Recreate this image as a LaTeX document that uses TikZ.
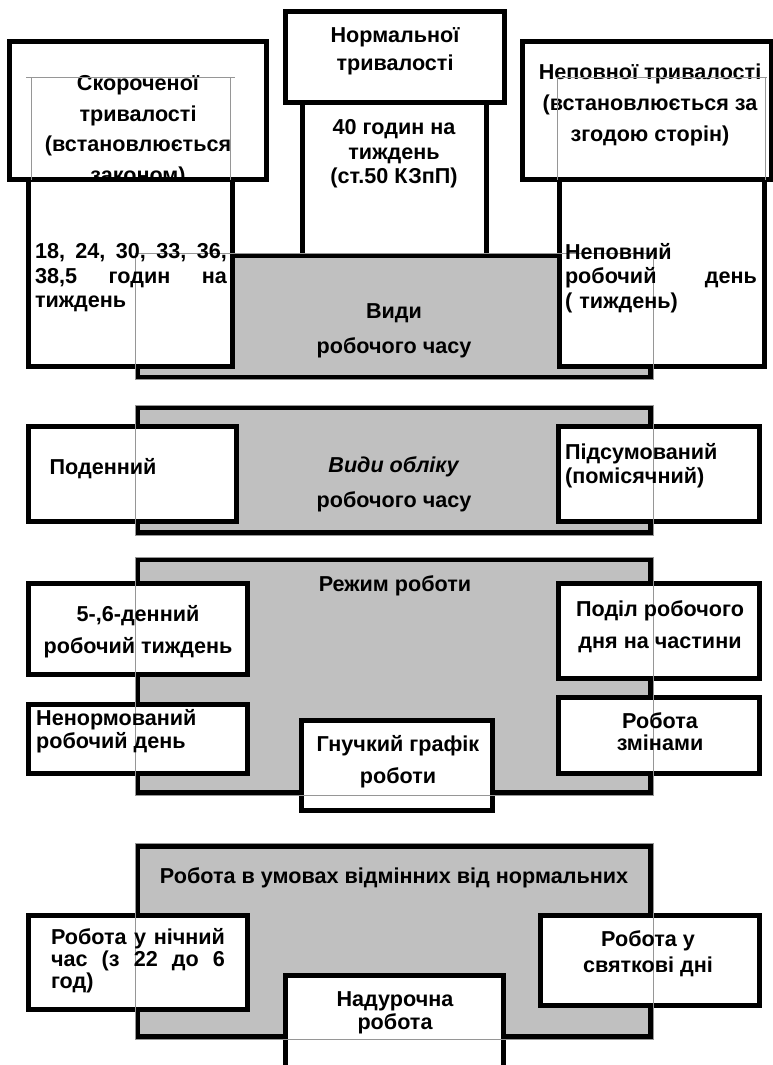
\documentclass[tikz,border=0pt]{standalone}
\usepackage{fontspec}
\setmainfont{Liberation Sans}

% one justified line: the spaces take up the free width
\newcommand{\spreadrow}[2]{\leavevmode\hbox to #1{\spaceskip=0.28em plus 1fil\relax #2}}

\begin{document}
\begin{tikzpicture}[x=1pt, y=-1pt,
  % ---- colours -------------------------------------------------------
  /utils/exec={%
    \definecolor{boxgrey}  {RGB}{192,192,192}%
    \definecolor{framegrey}{RGB}{150,150,150}%
  },
  % ---- boxes and labels ------------------------------------------------
  wbox/.style={draw=black, line width=5pt, fill=white, inner sep=0pt},
  gbox/.style={draw=black, line width=5pt, fill=boxgrey, inner sep=0pt,
    minimum width=513pt},
  lbl/.style={font=\bfseries\fontsize{21.6}{#1}\selectfont, align=center, inner sep=0pt},
  lbl/.default=25,
  frm/.style={draw=framegrey, line width=0.6pt},
]
\useasboundingbox (0,0) rectangle (773,1065);

% =====================================================================
%  BLOCK 1 : kinds of working time
% =====================================================================
\node[gbox, minimum height=121.5pt] (vydyChasu) at (394,316.5) {};

\node[wbox, minimum width=256.5pt, minimum height=137.5pt] (skorTop) at (137.75,110.75) {};
\node[wbox, minimum width=218.5pt, minimum height=90.5pt]  (normTop) at (394.75,57.25) {};
\node[wbox, minimum width=248.5pt, minimum height=137.5pt] (nepTop)  at (646.75,110.75) {};

\node[lbl=28]   (tNorm) at (395,51)  {Нормальної\\тривалості};
\node[lbl=30.5] (tSkor) at (138,131) {Скороченої\\тривалості\\(встановлюється\\законом)};
\node[lbl=31]   (tNep)  at (650,105) {Неповної тривалості\\(встановлюється за\\згодою сторін)};

\node[wbox, minimum width=203.5pt, minimum height=186.5pt] (skorLow) at (130.25,272.75) {};
\node[wbox, minimum width=183.5pt, minimum height=153pt]   (normLow) at (394.25,179) {};
\node[wbox, minimum width=205pt,   minimum height=186.5pt] (nepLow)  at (662,272.75) {};

% text frames left over round the upper labels
\draw[frm] (26,77) -- (235,77);
\draw[frm] (31,77) -- (31,180);
\draw[frm] (230,77) -- (230,180);
\draw[frm] (556,77) -- (767,77);
\draw[frm] (557,77) -- (557,180);
\draw[frm] (765,77) -- (765,180);
\draw[frm] (vydyChasu.north west) rectangle (vydyChasu.south east);

\node[lbl=24.5] (tSorok) at (394,154) {40 годин на\\тиждень\\(ст.50 КЗпП)};
\node[lbl=24.5, align=left, text width=192pt] (tGodyny) at (131,278)
  {\spreadrow{192pt}{18, 24, 30, 33, 36,}\\\spreadrow{192pt}{38,5 годин на}\\тиждень};
\node[lbl=24.5, align=left, text width=192pt] (tNepDen) at (661,278)
  {Неповний\\\spreadrow{192pt}{робочий день}\\( тиждень)};
\node[lbl=35] (tVydy) at (394,331) {Види\\робочого часу};

% =====================================================================
%  BLOCK 2 : kinds of accounting
% =====================================================================
\node[gbox, minimum height=125pt] (vydyOblik) at (394,470) {};
\node[wbox, minimum width=208pt, minimum height=95pt] (poden)  at (132.5,474) {};
\node[wbox, minimum width=201pt, minimum height=95pt] (pidsum) at (659,474) {};
\draw[frm] (vydyOblik.north west) rectangle (vydyOblik.south east);

\node[lbl] (tPoden) at (103,469) {Поденний};
\node[lbl=24, align=left, anchor=west] (tPidsum) at (565,466) {Підсумований\\(помісячний)};
\node[lbl=35] (tOblik) at (394,484) {\textit{Види обліку}\\робочого часу};

% =====================================================================
%  BLOCK 3 : work schedule
% =====================================================================
\node[gbox, minimum height=233pt] (rezhym) at (394,676) {};
\node[wbox, minimum width=219pt, minimum height=91pt] (p56)     at (138,629) {};
\node[wbox, minimum width=201pt, minimum height=95pt] (podil)   at (659,631) {};
\node[wbox, minimum width=219pt, minimum height=69pt] (nenorm)  at (138,739) {};
\node[wbox, minimum width=201pt, minimum height=76pt] (zminy)   at (659,735.5) {};
\node[wbox, minimum width=191pt, minimum height=90pt] (gnuchky) at (397,765.5) {};
\draw[frm] (rezhym.north west) rectangle (rezhym.south east);

\node[lbl] (tRezhym) at (395,586) {Режим роботи};
\node[lbl=32] (tP56)   at (138,632) {5-,6-денний\\робочий тиждень};
\node[lbl=32] (tPodil) at (660,627) {Поділ робочого\\дня на частини};
\node[lbl=23, align=left, anchor=west] (tNenorm) at (36,731) {Ненормований\\робочий день};
\node[lbl=22] (tZminy) at (660,732) {Робота\\змінами};
\node[lbl=32] (tGnuch) at (398,762) {Гнучкий графік\\роботи};

% =====================================================================
%  BLOCK 4 : work under other conditions
% =====================================================================
\node[gbox, minimum height=190.5pt] (vidminni) at (394,941.25) {};
\node[wbox, minimum width=219pt, minimum height=94pt]    (nichny)     at (138,962.5) {};
\node[wbox, minimum width=219pt, minimum height=90pt]    (sviatkovi)  at (650,960.5) {};
\node[wbox, minimum width=218pt, minimum height=124.5pt] (nadurochna) at (394.5,1037.75) {};
\draw[frm] (vidminni.north west) rectangle (vidminni.south east);

\node[lbl] (tVidm) at (394,878) {Робота в умовах відмінних від нормальних};
\node[lbl=22, align=left, text width=174pt] (tNich) at (138,961)
  {\spreadrow{174pt}{Робота у нічний}\\\spreadrow{174pt}{час (з 22 до 6}\\год)};
\node[lbl=26] (tSviat) at (648,954)  {Робота у\\святкові дні};
\node[lbl=23] (tNadur) at (395,1013) {Надурочна\\робота};

\end{tikzpicture}
\end{document}
